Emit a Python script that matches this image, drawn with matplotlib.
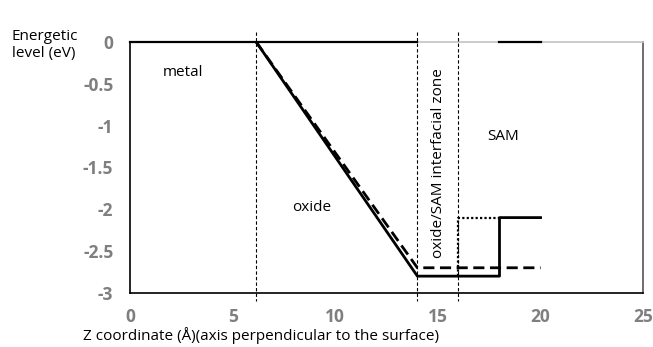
import matplotlib.pyplot as plt

# energy profile data
solid_x = [6.15, 14, 18, 18, 20]
solid_y = [0, -2.8, -2.8, -2.1, -2.1]
dashed_x = [6.15, 14, 20]
dashed_y = [0, -2.7, -2.7]
dotted_x = [16, 16, 18]
dotted_y = [-2.8, -2.1, -2.1]
top_x = [[0, 14], [18, 20]]
top_y = [[0, 0], [0, 0]]
boundaries = [6.15, 14, 16]

xticks = [0, 5, 10, 15, 20, 25]
yticks = [0, -0.5, -1, -1.5, -2, -2.5, -3]
ytick_labels = ["0", "-0.5", "-1", "-1.5", "-2", "-2.5", "-3"]

plt.rcParams['font.family'] = ['Open Sans', 'DejaVu Sans']

fig = plt.figure(figsize=(6.53, 3.47), dpi=100)
ax = fig.add_axes([0.199, 0.156, 0.786, 0.723])

for xs, ys in zip(top_x, top_y):
    ax.plot(xs, ys, color="black", lw=1.6, clip_on=False, zorder=4)
ax.plot(solid_x, solid_y, color="black", lw=2, zorder=5)
ax.plot(dashed_x, dashed_y, color="black", lw=2, ls=(0, (4, 2)), zorder=5)
ax.plot(dotted_x, dotted_y, color="black", lw=1.6, ls=(0, (1, 1)), zorder=5)

for b in boundaries:
    ax.plot([b, b], [0.12, -3.1], color="black", lw=0.8, ls=(0, (3, 2)),
            clip_on=False, zorder=3)

ax.text(1.6, -0.36, "metal", fontsize=11, va="center")
ax.text(7.9, -1.98, "oxide", fontsize=11, va="center")
ax.text(17.4, -1.13, "SAM", fontsize=11, va="center")
ax.text(15.05, -1.45, "oxide/SAM interfacial zone", fontsize=11,
        rotation=90, ha="center", va="center")

ax.set_xlim(0, 25)
ax.set_ylim(-3, 0)
ax.set_xticks(xticks)
ax.set_yticks(yticks)
ax.set_yticklabels(ytick_labels)
ax.tick_params(length=0, labelsize=12.5, labelcolor="#7f7f7f")
ax.tick_params(axis="y", pad=12)
ax.tick_params(axis="x", pad=11)
for lab in ax.get_xticklabels() + ax.get_yticklabels():
    lab.set_fontweight("bold")

ax.spines["left"].set_color("black")
ax.spines["bottom"].set_color("black")
ax.spines["right"].set_color("#555555")
ax.spines["top"].set_color("#c4c4c4")
for s in ax.spines.values():
    s.set_linewidth(1.2)

ax.set_xlabel("Z coordinate (Å)(axis perpendicular to the surface)",
              fontsize=11)
ax.xaxis.set_label_coords(0.256, -0.138)
fig.text(0.018, 0.87, "Energetic\nlevel (eV)", fontsize=11, va="center",
         linespacing=1.2)

fig.savefig("out.png", dpi=100)
